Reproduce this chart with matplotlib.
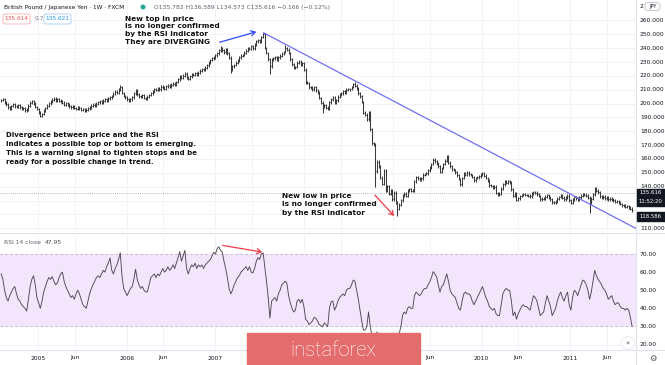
import numpy as np
import pandas as pd
import matplotlib
matplotlib.use("Agg")
import matplotlib.pyplot as plt
import matplotlib.dates as mdates
from matplotlib.patches import Rectangle, FancyBboxPatch, Ellipse, FancyArrowPatch
from matplotlib.lines import Line2D

# ---------------- data ----------------
start_date = "2004-08-02"          # first weekly bar
first_open = 201.8
closes = [
    202.5, 203.1, 201.0, 199.5, 197.2, 196.4, 198.3, 199.6, 198.0, 197.5, 198.8, 197.4, 196.0,
    196.5, 195.2, 195.8, 198.5, 200.7, 201.9, 199.8, 197.6, 196.0, 193.4, 191.2, 192.5, 195.0,
    196.8, 198.5, 200.2, 201.4, 202.8, 203.5, 202.1, 203.2, 202.0, 201.3, 200.5, 199.0, 200.4,
    199.2, 198.0, 197.4, 198.1, 196.8, 196.0, 197.2, 196.5, 195.3, 195.8, 194.6, 195.5, 196.7,
    197.4, 198.6, 199.1, 198.2, 200.0, 200.9, 201.5, 200.6, 202.2, 203.0, 202.4, 203.8, 204.6,
    205.5, 207.0, 208.6, 207.8, 209.9, 212.0, 207.6, 205.4, 204.6, 203.2, 202.0, 203.0, 204.5,
    207.3, 209.5, 206.6, 205.2, 204.8, 205.9, 204.1, 203.6, 205.0, 206.2, 207.5, 208.9, 210.4,
    209.8, 211.0, 210.3, 212.1, 211.4, 210.8, 212.6, 213.0, 212.2, 213.5, 214.4, 213.8, 215.6,
    217.4, 219.6, 218.8, 220.2, 221.5, 218.6, 217.8, 219.6, 221.0, 220.6, 221.8, 221.0, 222.4,
    223.8, 224.9, 224.2, 226.0, 227.5, 229.8, 231.4, 232.6, 233.1, 234.9, 236.2, 238.4, 240.1,
    238.5, 237.0, 239.2, 236.4, 233.0, 224.5, 226.8, 227.8, 229.6, 231.2, 233.4, 234.6, 235.0,
    236.8, 238.2, 240.1, 239.4, 241.5, 239.8, 242.6, 244.9, 245.6, 245.0, 248.0, 249.9, 240.2,
    236.5, 232.0, 226.8, 231.9, 232.6, 233.4, 231.9, 233.5, 234.6, 236.0, 237.2, 240.0, 239.0,
    236.5, 232.0, 228.4, 225.8, 226.4, 229.5, 230.2, 227.8, 229.0, 224.6, 215.4, 214.9, 211.8,
    211.6, 210.2, 212.0, 209.5, 208.2, 204.0, 200.6, 197.6, 198.8, 197.0, 196.4, 201.0, 203.2,
    204.5, 200.8, 202.4, 204.9, 206.7, 207.3, 208.8, 208.2, 210.0, 210.4, 210.6, 212.0, 213.8,
    213.0, 210.8, 207.5, 205.3, 201.2, 193.5, 192.0, 188.6, 193.6, 181.4, 171.2, 170.5, 151.0,
    158.0, 154.6, 146.5, 142.0, 151.4, 136.8, 140.5, 135.0, 137.4, 131.0, 135.6, 128.4, 124.0,
    127.0, 130.2, 133.4, 134.8, 133.6, 137.2, 138.0, 136.8, 137.4, 144.0, 146.8, 146.0, 145.0,
    146.0, 148.6, 149.2, 149.6, 151.8, 153.6, 156.4, 159.5, 158.4, 157.0, 154.6, 150.6, 153.4,
    156.4, 158.8, 162.0, 157.4, 154.6, 152.4, 152.0, 150.3, 148.2, 145.5, 141.6, 146.2, 149.8,
    148.6, 150.2, 149.0, 148.4, 147.0, 144.5, 146.2, 146.8, 147.6, 149.0, 149.8, 148.0, 146.2,
    144.2, 141.0, 140.4, 139.4, 140.0, 135.4, 134.0, 135.0, 138.6, 141.8, 143.6, 142.6, 144.0,
    143.0, 138.0, 133.5, 135.2, 130.4, 131.6, 133.2, 134.0, 134.5, 134.0, 133.9, 133.6, 133.0,
    134.8, 136.2, 135.6, 134.6, 133.2, 131.0, 131.2, 131.6, 132.8, 133.8, 132.4, 131.0, 128.6,
    128.8, 129.4, 131.2, 132.6, 133.6, 132.0, 131.0, 132.4, 133.4, 130.2, 128.4, 130.8, 132.4,
    131.6, 130.8, 132.2, 133.4, 134.6, 134.2, 133.4, 132.0, 128.4, 131.2, 134.6, 138.4, 137.2,
    136.0, 133.0, 132.2, 132.8, 131.6, 132.6, 130.8, 131.4, 131.0, 130.2, 129.0, 129.6, 128.6,
    127.4, 126.4, 126.8, 125.6, 126.0, 125.2, 124.0, 122.8,
]
high_overrides = {"2005-12-05": 213.2, "2007-01-22": 241.5, "2007-07-16": 251.1,
                  "2007-10-15": 242.5, "2008-07-28": 215.9, "2009-08-10": 163.0,
                  "2011-04-11": 140.0}
low_overrides = {"2007-03-05": 222.0, "2007-08-13": 221.0, "2008-03-17": 193.5,
                 "2008-10-20": 139.5, "2009-01-19": 118.8, "2011-03-21": 121.0}

rsi = [
    59, 56, 50, 46, 44, 47, 49, 51, 52, 48, 45, 44, 42,
    41, 40, 38.5, 45, 52, 56, 58, 53, 46, 43, 40, 44, 49,
    52, 55, 57, 56, 57.5, 55, 53, 54, 57, 59, 60, 55, 52,
    50, 48, 46, 47, 45, 48, 50, 48, 45, 42, 41, 40, 44,
    48, 51, 53, 55, 57, 58, 57, 59, 61, 60, 63, 65, 67.8,
    61, 59, 62, 64, 67, 70.7, 58, 51, 49.2, 47, 49, 51, 52,
    56, 61.6, 56, 53, 51, 52, 50, 49, 49.2, 53, 57, 58, 59,
    57, 59, 58, 60, 62, 60, 61, 63, 61, 62, 64, 62, 65,
    68, 71.3, 66, 69, 72, 62, 59, 62, 64, 63, 65, 62, 64,
    63, 64, 62, 64, 65, 66, 67, 69, 71, 70, 73, 74, 72,
    71, 66, 62, 57, 51, 48, 50, 53, 55, 57, 58, 60, 61,
    62, 63, 61, 63, 60, 59.6, 62, 66, 68, 67, 70, 70.7, 63,
    55, 46, 34.6, 44, 45, 46, 44, 48, 50, 53, 54, 55, 53.8,
    47, 43, 40, 38, 39, 44, 45, 43, 45, 41, 34, 33, 31,
    32, 33, 35, 34.6, 33, 31, 30.5, 29.8, 32, 31, 30, 40, 43.6,
    44, 39, 41, 44, 46, 47, 48, 47, 50, 51, 51, 53, 55.6,
    55, 50, 45, 39, 33, 28, 28, 30, 38, 30, 25, 24, 18,
    27, 25, 22, 21, 26, 21, 24, 22, 24, 21, 24, 21, 18,
    26, 29.8, 36, 38, 37, 40, 41, 40, 40, 47, 49, 48, 47,
    48, 50, 51, 51, 53, 54.7, 57, 60.3, 59, 57.5, 53, 49, 52,
    53, 56, 59, 55, 50, 48, 47, 46, 43, 40, 39, 44, 48,
    49, 48, 48, 47, 44, 42, 44, 46, 48, 50, 52, 49, 46,
    44, 41, 40, 39, 40, 37, 36, 36, 42, 48, 50, 51, 50,
    50, 44, 36, 38, 34, 37, 39, 41, 42, 41, 41, 40, 39,
    43, 47, 46, 44, 40, 36, 37, 38, 43, 47, 44, 41, 36,
    38, 40, 44, 47, 49, 46, 44, 47, 49, 42, 39, 46, 50,
    49, 47, 50, 53, 55.6, 55, 53, 50, 45, 49, 55, 61, 58,
    56, 54.7, 53, 51, 50, 48, 45, 46, 47, 44, 42, 43, 43,
    41, 40, 40, 39, 40, 39, 35, 30,
]

price_ticks = [110, 140, 150, 160, 170, 180, 190, 200, 210, 220, 230, 240, 250, 260]
grid_prices = [110, 120, 130, 140, 150, 160, 170, 180, 190, 200, 210, 220, 230, 240, 250, 260]
rsi_ticks = [20, 30, 40, 50, 60, 70]
year_ticks = ["2005", "2006", "2007", "2010", "2011"]
month_ticks = ["2005-06-01", "2006-06-01", "2009-06-01", "2010-06-01", "2011-06-01"]
hidden_ticks = ["2007-06-01", "2008-01-01", "2008-06-01", "2009-01-01"]
trend_start = ("2007-07-18", 251.1)
trend_end = ("2011-09-28", 109.8)
last_price = 135.616
crosshair_price = 118.586

# ---------------- figure ----------------
W, H = 665, 365
fig = plt.figure(figsize=(W / 100, H / 100), dpi=100)
fig.patch.set_facecolor("white")

def fx(x):
    return x / W

def fy(y):
    return 1 - y / H

PLOT_R = 636
ax_p = fig.add_axes([0, fy(230), fx(PLOT_R), 230 / H])
ax_r = fig.add_axes([0, fy(350), fx(PLOT_R), 115 / H])

dates = pd.date_range(start_date, periods=len(closes), freq="7D")
xd = mdates.date2num(dates)
c = np.array(closes, dtype=float)
o = np.concatenate([[first_open], c[:-1]])
pad = 1.0
hi = np.maximum(o, c) + pad
lo = np.minimum(o, c) - pad
for d, v in high_overrides.items():
    hi[dates.get_loc(pd.Timestamp(d))] = v
for d, v in low_overrides.items():
    lo[dates.get_loc(pd.Timestamp(d))] = v

xlim = (mdates.date2num(pd.Timestamp("2004-07-28")), mdates.date2num(pd.Timestamp("2011-09-28")))
grid_c = "#f0f2f7"

for ax in (ax_p, ax_r):
    ax.set_xlim(*xlim)
    for s in ax.spines.values():
        s.set_visible(False)
    ax.set_xticks([])
    ax.set_yticks([])
    ax.set_facecolor("white")

ax_p.set_ylim(108.7, 274.8)
ax_r.set_ylim(17.0, 80.5)

tick_x = [mdates.date2num(pd.Timestamp(t)) for t in year_ticks + month_ticks + hidden_ticks]
for ax in (ax_p, ax_r):
    for t in tick_x:
        ax.axvline(t, color=grid_c, lw=0.7, zorder=0)
for p in grid_prices:
    ax_p.axhline(p, color=grid_c, lw=0.7, zorder=0)
for r in rsi_ticks:
    ax_r.axhline(r, color=grid_c, lw=0.7, zorder=0)

# price bars (OHLC)
bar_c = "#3a3a3a"
half = 2.6
ax_p.vlines(xd, lo, hi, color=bar_c, lw=0.75, zorder=3)
ax_p.hlines(o, xd - half, xd, color=bar_c, lw=0.6, zorder=3)
ax_p.hlines(c, xd, xd + half, color=bar_c, lw=0.6, zorder=3)

ax_p.axhline(last_price, color="#9a9ca3", lw=0.6, ls=(0, (1, 1.5)), zorder=2)

# trend line
ax_p.plot([mdates.date2num(pd.Timestamp(trend_start[0])), mdates.date2num(pd.Timestamp(trend_end[0]))],
          [trend_start[1], trend_end[1]], color="#6f6ff0", lw=0.9, zorder=4, clip_on=False)

# RSI pane
ax_r.axhspan(30, 70, color="#f3e6fc", zorder=0.5, lw=0)
for r in (30, 70):
    ax_r.axhline(r, color="#b9aec6", lw=0.6, ls=(0, (3, 3)), zorder=1)
ax_r.plot(xd, rsi, color="#4d4852", lw=0.65, zorder=3)

# separators
fig.add_artist(Line2D([0, 1], [fy(232.5), fy(232.5)], color="#e0e3eb", lw=0.8))
fig.add_artist(Line2D([0, 1], [fy(350), fy(350)], color="#e0e3eb", lw=0.8))
fig.add_artist(Line2D([fx(PLOT_R), fx(PLOT_R)], [0, 1], color="#e0e3eb", lw=0.8))

txt_c = "#131722"
ax_fs = 4.3

def T(x, y, s, **kw):
    kw.setdefault("va", "center")
    kw.setdefault("ha", "left")
    return fig.text(fx(x), fy(y), s, **kw)

# right price axis labels
for p in price_ticks:
    yy = 20.5 + (260 - p) * 1.385
    T(640, yy, f"{p:.3f}", fontsize=ax_fs, color=txt_c)
# RSI axis labels
for r in rsi_ticks:
    yy = 254 + (70 - r) * 1.81
    T(640, yy, f"{r:.2f}", fontsize=ax_fs, color=txt_c)

def black_label(y, s):
    fig.add_artist(Rectangle((fx(637), fy(y + 4.2)), fx(27.5), 8.4 / H, color="#131722", zorder=10))
    T(650.5, y, s, fontsize=3.9, color="white", zorder=11, ha="center")

black_label(20.5 + (260 - last_price) * 1.385, "135.616")
black_label(20.5 + (260 - last_price) * 1.385 + 9, "11:52:20")
black_label(20.5 + (260 - crosshair_price) * 1.385, "118.586")

# top right currency badge
T(640, 6.5, "2", fontsize=ax_fs, color=txt_c, zorder=10)
fig.add_artist(FancyBboxPatch((fx(645), fy(10.5)), fx(15), 8 / H,
                              boxstyle="round,pad=0,rounding_size=0.006",
                              fc="white", ec="#b2b5be", lw=0.5, zorder=10))
T(652.5, 6.5, "JPY", fontsize=3.6, color=txt_c, ha="center", zorder=11)

# x axis labels
def xpix(t):
    return 38 + (mdates.date2num(pd.Timestamp(t)) - mdates.date2num(pd.Timestamp("2005-01-01"))) / 365.25 * 88.7

for t in year_ticks:
    T(xpix(t), 358, t, fontsize=ax_fs, color=txt_c, ha="center")
for t in month_ticks:
    T(xpix(t), 358, "Jun", fontsize=ax_fs, color=txt_c, ha="center")

# gear & scroll icons
T(653, 358, "\u2699", fontsize=6, color="#50535e", ha="center")
fig.add_artist(Ellipse((fx(628), fy(343)), 13 / W, 13 / H, transform=fig.transFigure,
                       fc="white", ec="#e0e3eb", lw=0.5, zorder=9))
T(628, 343, "\u00bb", fontsize=5, color="#50535e", ha="center", zorder=10)

# header
hdr_c = "#131722"
T(4, 7, "British Pound / Japanese Yen \u00b7 1W \u00b7 FXCM", fontsize=4.25, color=hdr_c)
fig.add_artist(Ellipse((fx(143), fy(7)), 5 / W, 5 / H, transform=fig.transFigure, fc="#26a69a", ec="none"))
T(154, 7, "O135.782 H136.589 L134.573 C135.616 \u22120.166 (\u22120.12%)", fontsize=4.3, color="#5d606b")
fig.add_artist(FancyBboxPatch((fx(3), fy(24)), fx(27), 10 / H, boxstyle="round,pad=0,rounding_size=0.004",
                              fc="white", ec="#f7a1a1", lw=0.5))
T(16.5, 19, "135.614", fontsize=4.2, color="#ef5350", ha="center")
T(35, 19, "0.7", fontsize=4.2, color="#787b86")
fig.add_artist(FancyBboxPatch((fx(44), fy(24)), fx(27), 10 / H, boxstyle="round,pad=0,rounding_size=0.004",
                              fc="white", ec="#90c2f7", lw=0.5))
T(57.5, 19, "135.621", fontsize=4.2, color="#2196f3", ha="center")

T(4, 243, "RSI 14 close", fontsize=4.3, color="#5d606b")
T(45, 243, "47.95", fontsize=4.3, color="#4d4852")

# annotations
T(125, 15.5, "New top in price\nis no longer confirmed\nby the RSI indicator\nThey are DIVERGING",
  fontsize=5.3, fontweight="bold", color="#111111", linespacing=1.36, va="top")
T(6, 132.0, "Divergence between price and the RSI\nindicates a possible top or bottom is emerging.\n"
            "This is a warning signal to tighten stops and be\nready for a possible change in trend.",
  fontsize=5.0, fontweight="bold", color="#111111", linespacing=1.6, va="top")
T(282.5, 193.0, "New low in price\nis no longer confirmed\nby the RSI indicator",
  fontsize=5.3, fontweight="bold", color="#111111", linespacing=1.48, va="top")

def arrow(x0, y0, x1, y1, color):
    fig.add_artist(FancyArrowPatch(
        (fx(x0), fy(y0)), (fx(x1), fy(y1)), transform=fig.transFigure,
        arrowstyle="->,head_length=3,head_width=1.8", color=color, lw=0.9, zorder=12))

arrow(217, 43, 259, 31, "#2f4bff")
arrow(373, 193, 396, 218, "#f03c46")
arrow(220, 245, 265, 252.5, "#f03c46")

# watermark
fig.add_artist(Rectangle((fx(247), 0), fx(173), 32 / H, color="#e46c6c", zorder=20))
T(333.5, 350.5, "instaforex", fontsize=14.5, color="white", ha="center", zorder=21,
  family="Roboto", fontweight="light")

fig.savefig("out.png", dpi=100, facecolor="white")
